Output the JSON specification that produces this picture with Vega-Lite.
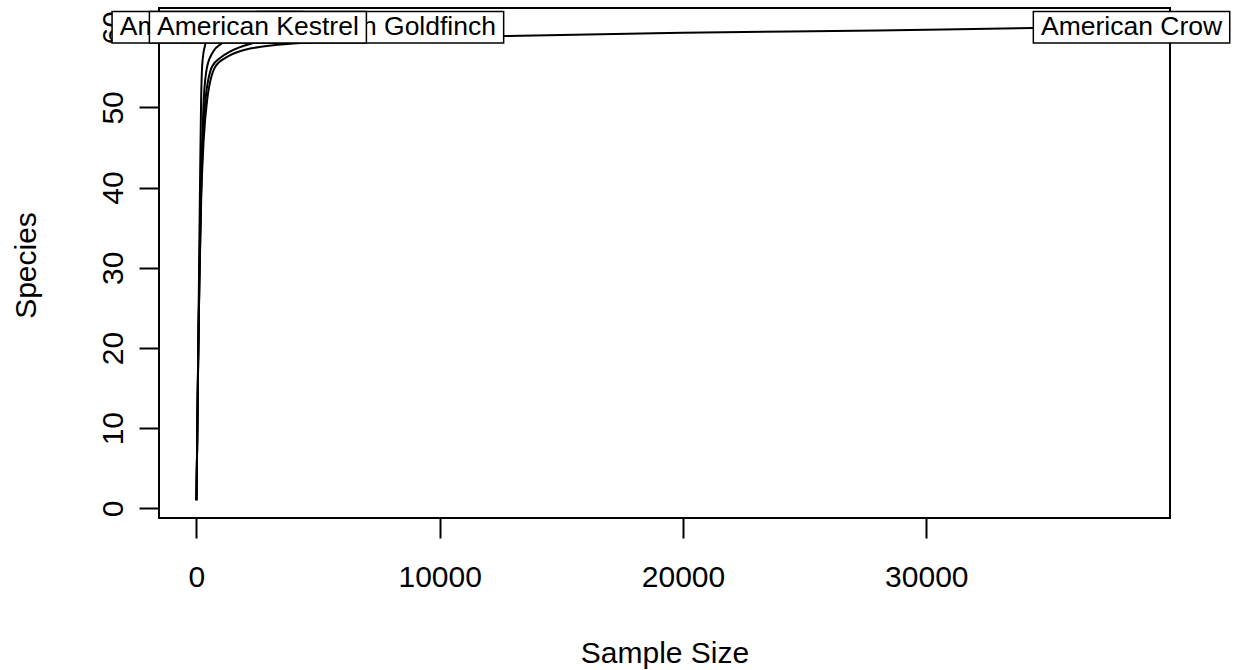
{
  "$schema": "https://vega.github.io/schema/vega-lite/v6.json",
  "autosize": {"type": "none"},
  "width": 1011,
  "height": 510,
  "padding": {"left": 159, "top": 8, "right": 69, "bottom": 152},
  "background": "white",
  "config": {
    "view": {"stroke": "black", "strokeWidth": 2},
    "font": "Liberation Sans",
    "axis": {
      "domain": false,
      "grid": false,
      "tickColor": "black",
      "tickWidth": 2,
      "tickSize": 20,
      "labelColor": "black",
      "labelFont": "Liberation Sans",
      "labelFontSize": 30,
      "titleColor": "black",
      "titleFont": "Liberation Sans",
      "titleFontSize": 30,
      "titleFontWeight": "normal"
    }
  },
  "datasets": {
    "curves": [
      {"series": "American Coot", "n": 1, "s": 1},
      {"series": "American Coot", "n": 30, "s": 8},
      {"series": "American Coot", "n": 70, "s": 19},
      {"series": "American Coot", "n": 110, "s": 30},
      {"series": "American Coot", "n": 150, "s": 41},
      {"series": "American Coot", "n": 193, "s": 50.9},
      {"series": "American Coot", "n": 234, "s": 55.1},
      {"series": "American Coot", "n": 300, "s": 57},
      {"series": "American Coot", "n": 370, "s": 58},
      {"series": "American Coot", "n": 410, "s": 59.1},
      {"series": "American Coot", "n": 450, "s": 60},
      {"series": "American Crow", "n": 1, "s": 1},
      {"series": "American Crow", "n": 30, "s": 8},
      {"series": "American Crow", "n": 70, "s": 18},
      {"series": "American Crow", "n": 120, "s": 28},
      {"series": "American Crow", "n": 200, "s": 39},
      {"series": "American Crow", "n": 300, "s": 46},
      {"series": "American Crow", "n": 440, "s": 50.9},
      {"series": "American Crow", "n": 780, "s": 55.1},
      {"series": "American Crow", "n": 1260, "s": 56.3},
      {"series": "American Crow", "n": 2000, "s": 57.2},
      {"series": "American Crow", "n": 4137, "s": 58},
      {"series": "American Crow", "n": 8000, "s": 58.5},
      {"series": "American Crow", "n": 12654, "s": 58.9},
      {"series": "American Crow", "n": 20000, "s": 59.3},
      {"series": "American Crow", "n": 28000, "s": 59.6},
      {"series": "American Crow", "n": 34388, "s": 59.9},
      {"series": "American Crow", "n": 38435, "s": 60},
      {"series": "American Goldfinch", "n": 1, "s": 1},
      {"series": "American Goldfinch", "n": 30, "s": 8},
      {"series": "American Goldfinch", "n": 70, "s": 18},
      {"series": "American Goldfinch", "n": 120, "s": 28},
      {"series": "American Goldfinch", "n": 190, "s": 39},
      {"series": "American Goldfinch", "n": 270, "s": 46},
      {"series": "American Goldfinch", "n": 370, "s": 50.9},
      {"series": "American Goldfinch", "n": 645, "s": 55.1},
      {"series": "American Goldfinch", "n": 986, "s": 56.2},
      {"series": "American Goldfinch", "n": 1400, "s": 57},
      {"series": "American Goldfinch", "n": 2288, "s": 58},
      {"series": "American Goldfinch", "n": 3500, "s": 58.8},
      {"series": "American Goldfinch", "n": 5500, "s": 59.5},
      {"series": "American Goldfinch", "n": 7560, "s": 60},
      {"series": "American Kestrel", "n": 1, "s": 1},
      {"series": "American Kestrel", "n": 30, "s": 8},
      {"series": "American Kestrel", "n": 70, "s": 18},
      {"series": "American Kestrel", "n": 120, "s": 29},
      {"series": "American Kestrel", "n": 180, "s": 40},
      {"series": "American Kestrel", "n": 240, "s": 46},
      {"series": "American Kestrel", "n": 300, "s": 50.9},
      {"series": "American Kestrel", "n": 440, "s": 55.1},
      {"series": "American Kestrel", "n": 700, "s": 57},
      {"series": "American Kestrel", "n": 1056, "s": 58},
      {"series": "American Kestrel", "n": 1600, "s": 59},
      {"series": "American Kestrel", "n": 2527, "s": 60}
    ],
    "labels": [
      {"series": "American Coot", "n": 450, "s": 60},
      {"series": "American Crow", "n": 38435, "s": 60},
      {"series": "American Goldfinch", "n": 7560, "s": 60},
      {"series": "American Kestrel", "n": 2527, "s": 60}
    ]
  },
  "layer": [
    {
      "data": {"name": "curves"},
      "mark": {"type": "line", "interpolate": "monotone", "color": "black", "strokeWidth": 2},
      "encoding": {
        "x": {
          "field": "n", "type": "quantitative",
          "scale": {"domain": [-1538, 40016], "nice": false, "zero": false},
          "axis": {"values": [0, 10000, 20000, 30000], "format": "d", "title": "Sample Size", "labelBaseline": "alphabetic", "labelPadding": 48, "titleBaseline": "alphabetic", "titleY": 144, "labelFlush": false}
        },
        "y": {
          "field": "s", "type": "quantitative",
          "scale": {"domain": [-1.21, 62.4], "nice": false, "zero": false},
          "axis": {"values": [0, 10, 20, 30, 40, 50, 60], "format": "d", "title": "Species", "labelAngle": -90, "labelAlign": "center", "labelBaseline": "alphabetic", "labelPadding": 17, "titleAngle": -90, "titleBaseline": "alphabetic", "titleX": -124, "titleY": 257, "labelFlush": false}
        },
        "detail": {"field": "series", "type": "nominal"}
      }
    },
    {
      "data": {"name": "labels"},
      "transform": [{"filter": "datum.series === 'American Coot'"}],
      "mark": {"type": "point", "shape": "M-95.3,-15.8L95.3,-15.8L95.3,15.8L-95.3,15.8Z", "size": 4, "filled": true, "fill": "white", "stroke": "black", "strokeWidth": 1.5, "opacity": 1},
      "encoding": {"x": {"field": "n", "type": "quantitative"}, "y": {"field": "s", "type": "quantitative"}}
    },
    {
      "data": {"name": "labels"},
      "transform": [{"filter": "datum.series === 'American Coot'"}],
      "mark": {"type": "text", "font": "Liberation Sans", "fontSize": 26.5, "color": "black", "align": "center", "baseline": "middle"},
      "encoding": {"x": {"field": "n", "type": "quantitative"}, "y": {"field": "s", "type": "quantitative"}, "text": {"field": "series"}}
    },
    {
      "data": {"name": "labels"},
      "transform": [{"filter": "datum.series === 'American Crow'"}],
      "mark": {"type": "point", "shape": "M-98.2,-15.8L98.2,-15.8L98.2,15.8L-98.2,15.8Z", "size": 4, "filled": true, "fill": "white", "stroke": "black", "strokeWidth": 1.5, "opacity": 1},
      "encoding": {"x": {"field": "n", "type": "quantitative"}, "y": {"field": "s", "type": "quantitative"}}
    },
    {
      "data": {"name": "labels"},
      "transform": [{"filter": "datum.series === 'American Crow'"}],
      "mark": {"type": "text", "font": "Liberation Sans", "fontSize": 26.5, "color": "black", "align": "center", "baseline": "middle"},
      "encoding": {"x": {"field": "n", "type": "quantitative"}, "y": {"field": "s", "type": "quantitative"}, "text": {"field": "series"}}
    },
    {
      "data": {"name": "labels"},
      "transform": [{"filter": "datum.series === 'American Goldfinch'"}],
      "mark": {"type": "point", "shape": "M-123.3,-15.8L123.3,-15.8L123.3,15.8L-123.3,15.8Z", "size": 4, "filled": true, "fill": "white", "stroke": "black", "strokeWidth": 1.5, "opacity": 1},
      "encoding": {"x": {"field": "n", "type": "quantitative"}, "y": {"field": "s", "type": "quantitative"}}
    },
    {
      "data": {"name": "labels"},
      "transform": [{"filter": "datum.series === 'American Goldfinch'"}],
      "mark": {"type": "text", "font": "Liberation Sans", "fontSize": 26.5, "color": "black", "align": "center", "baseline": "middle"},
      "encoding": {"x": {"field": "n", "type": "quantitative"}, "y": {"field": "s", "type": "quantitative"}, "text": {"field": "series"}}
    },
    {
      "data": {"name": "labels"},
      "transform": [{"filter": "datum.series === 'American Kestrel'"}],
      "mark": {"type": "point", "shape": "M-108.5,-15.8L108.5,-15.8L108.5,15.8L-108.5,15.8Z", "size": 4, "filled": true, "fill": "white", "stroke": "black", "strokeWidth": 1.5, "opacity": 1},
      "encoding": {"x": {"field": "n", "type": "quantitative"}, "y": {"field": "s", "type": "quantitative"}}
    },
    {
      "data": {"name": "labels"},
      "transform": [{"filter": "datum.series === 'American Kestrel'"}],
      "mark": {"type": "text", "font": "Liberation Sans", "fontSize": 26.5, "color": "black", "align": "center", "baseline": "middle"},
      "encoding": {"x": {"field": "n", "type": "quantitative"}, "y": {"field": "s", "type": "quantitative"}, "text": {"field": "series"}}
    }
  ]
}
